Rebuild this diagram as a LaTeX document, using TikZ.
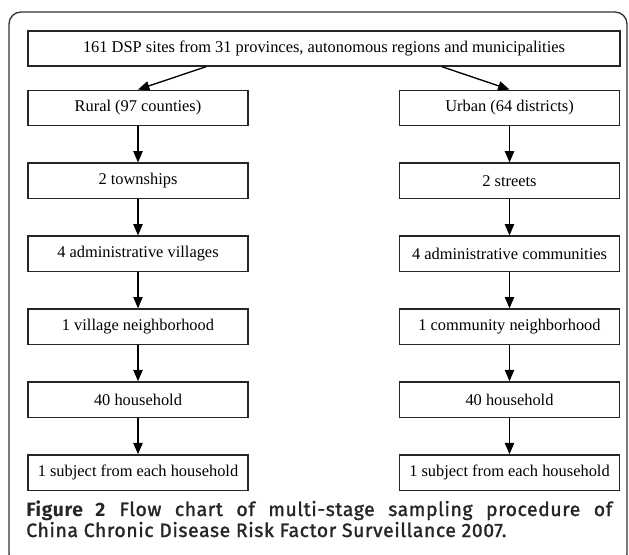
\documentclass[tikz,border=0pt]{standalone}
\usepackage{fontspec}
\setmainfont{Liberation Serif}
\newfontfamily\capfont{Fira Sans}[LetterSpace=3.2, UprightFeatures={FakeBold=1.5}]
\usetikzlibrary{positioning,arrows.meta}
\begin{document}
\begin{tikzpicture}[x = 0.75pt, y = -0.75pt,
        stage/.style = {draw = black!85, line width = 1.1pt, minimum width = 165pt, minimum height = 26.6pt, inner sep = 0pt, font = \fontsize{12.3}{14}\selectfont},
        down/.style = {line width = 1pt, -{Triangle[length = 8.5pt, width = 7pt]}},
        node distance = 27pt]
        \useasboundingbox (0,0) rectangle (629,554);
        \draw[line width = 1pt, black!80, rounded corners = 9pt] (9,12) rectangle (627,566);
        \node[stage, minimum width = 444pt, minimum height = 26.25pt] (sites) at (324,48.5) {161 DSP sites from 31 provinces, autonomous regions and municipalities};
        \node[stage] (rural) at (138,108) {Rural (97 counties)};
        \node[stage] (urban) at (509.5,108) {Urban (64 districts)};
        \node[stage, below = of rural] (town) {2 townships};
        \node[stage, below = of town] (village) {4 administrative villages};
        \node[stage, below = of village] (vnbh) {1 village neighborhood};
        \node[stage, below = of vnbh] (rhouse) {40 household};
        \node[stage, below = of rhouse] (rsubj) {1 subject from each household};
        \node[stage, below = of urban] (street) {2 streets};
        \node[stage, below = of street] (comm) {4 administrative communities};
        \node[stage, below = of comm] (cnbh) {1 community neighborhood};
        \node[stage, below = of cnbh] (uhouse) {40 household};
        \node[stage, below = of uhouse] (usubj) {1 subject from each household};
        \draw[down] ([xshift = -88.5pt]sites.south) -- (rural.north);
        \draw[down] ([xshift = 88.5pt]sites.south) -- (urban.north);
        \draw[down] (rural) -- (town);
        \draw[down] (town) -- (village);
        \draw[down] (village) -- (vnbh);
        \draw[down] (vnbh) -- (rhouse);
        \draw[down] (rhouse) -- (rsubj);
        \draw[down] (urban) -- (street);
        \draw[down] (street) -- (comm);
        \draw[down] (comm) -- (cnbh);
        \draw[down] (cnbh) -- (uhouse);
        \draw[down] (uhouse) -- (usubj);
        \node[anchor = base west, inner sep = 0pt, text = black!85] (cap1) at (26,516) {\capfont\fontsize{14.5}{17}\selectfont\makebox[439.5pt][s]{\textbf{Figure 2} Flow chart of multi-stage sampling procedure of}};
        \node[anchor = base west, inner sep = 0pt, text = black!85] (cap2) at (26,537) {\capfont\fontsize{14.5}{17}\selectfont China Chronic Disease Risk Factor Surveillance 2007.};
    \end{tikzpicture}
\end{document}
